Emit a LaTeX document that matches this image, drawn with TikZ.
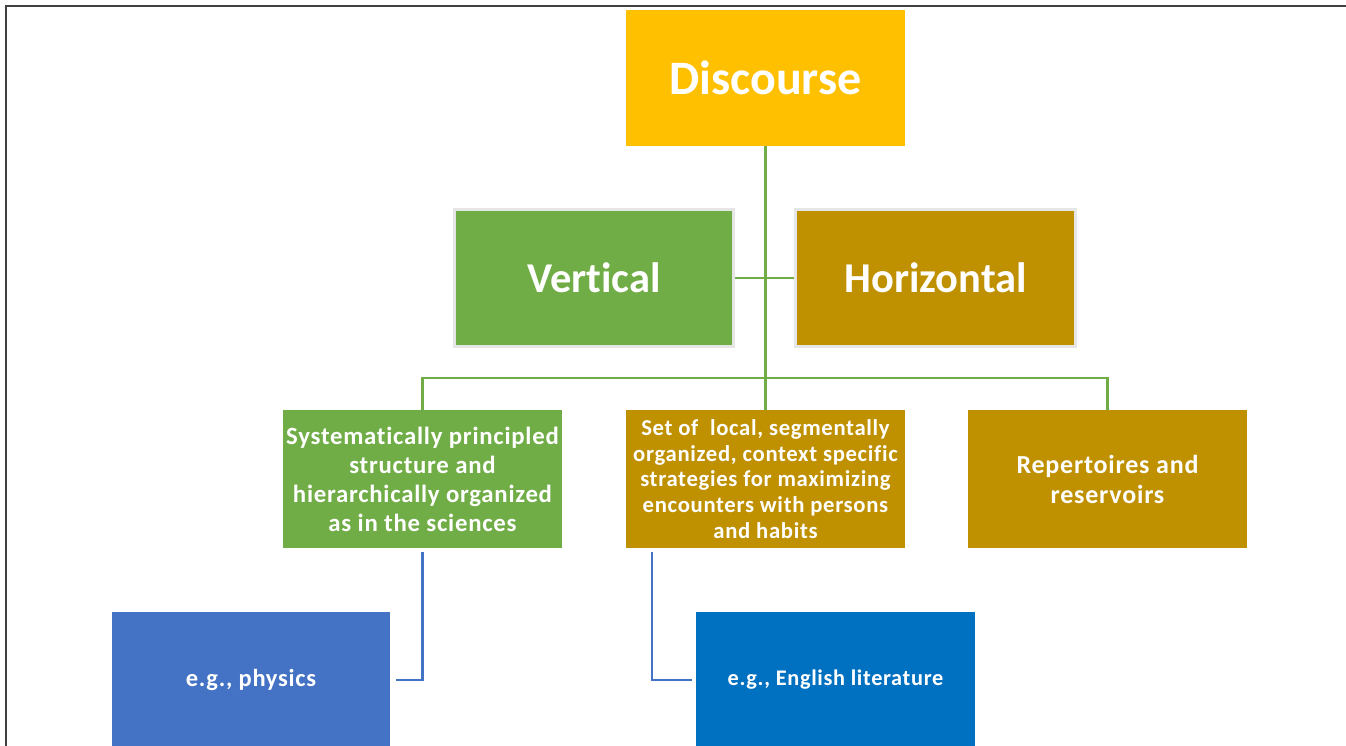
\documentclass[tikz,border=0pt]{standalone}
\usepackage{fontspec}
\setmainfont[Ligatures=NoCommon]{Carlito}
\newfontfamily\spaced[LetterSpace=3,Ligatures=NoCommon]{Carlito}
\definecolor{gold}{HTML}{FFC000}
\definecolor{lgreen}{HTML}{70AD47}
\definecolor{dgold}{HTML}{BF9000}
\definecolor{blueA}{HTML}{4472C4}
\definecolor{blueB}{HTML}{0070C0}
\definecolor{frame}{HTML}{404040}
\definecolor{rim}{HTML}{E7E6E6}
\tikzset{
  box/.style={rectangle, inner sep=1pt, align=center, text=white, font=\bfseries},
  rimbox/.style={box, draw=rim, line width=3pt},
  gline/.style={draw=lgreen, line width=2.5pt},
  bline/.style={draw=blueA, line width=2.5pt},
}
\begin{document}
\begin{tikzpicture}[x=1pt,y=-1pt]
\clip (0,0) rectangle (1346,746);
\fill[white] (0,0) rectangle (1346,746);
\draw[frame, line width=2pt] (6,746) -- (6,6) -- (1346,6);

\node[box, fill=gold, minimum width=279pt, minimum height=136pt, font=\bfseries\fontsize{48}{56}\selectfont] (D) at (765.5,78) {Discourse};
\node[rimbox, fill=lgreen, minimum width=279pt, minimum height=137pt, font=\bfseries\fontsize{42.5}{50}\selectfont] (V) at (594,278) {Vertical};
\node[rimbox, fill=dgold, minimum width=280pt, minimum height=137pt, font=\bfseries\fontsize{42.5}{50}\selectfont] (H) at (935.5,278) {Horizontal};

\node[box, fill=lgreen, minimum width=279pt, minimum height=138pt, font=\spaced\bfseries\fontsize{24.8}{29}\selectfont] (A) at (422.5,479) {Systematically principled\\structure and\\hierarchically organized\\as in the sciences};
\node[box, fill=dgold, minimum width=279pt, minimum height=138pt, font=\spaced\bfseries\fontsize{22.7}{25.7}\selectfont] (S) at (765.5,479) {Set of \ local, segmentally\\organized, context specific\\strategies for maximizing\\encounters with persons\\and habits};
\node[box, fill=dgold, minimum width=279pt, minimum height=138pt, font=\spaced\bfseries\fontsize{26}{30}\selectfont] (R) at (1107.5,479) {Repertoires and\\reservoirs};

\node[box, fill=blueA, minimum width=278pt, minimum height=136pt, font=\spaced\bfseries\fontsize{24.5}{28}\selectfont] (P) at (251,680) {e.g., physics};
\node[box, fill=blueB, minimum width=279pt, minimum height=136pt, font=\spaced\bfseries\fontsize{22.3}{26}\selectfont] (E) at (835.5,680) {e.g., English literature};

\draw[gline] (D.south) -- (S.north);
\draw[gline] (V.east) -- (H.west);
\draw[gline] (A.north) -- ++(0,-32) -| (R.north);

\draw[bline, shorten <=4pt, shorten >=6pt] (A.south) |- (P.east);
\draw[bline, shorten <=4pt, shorten >=4pt] ([xshift=-113.5pt]S.south) |- (E.west);
\end{tikzpicture}
\end{document}
